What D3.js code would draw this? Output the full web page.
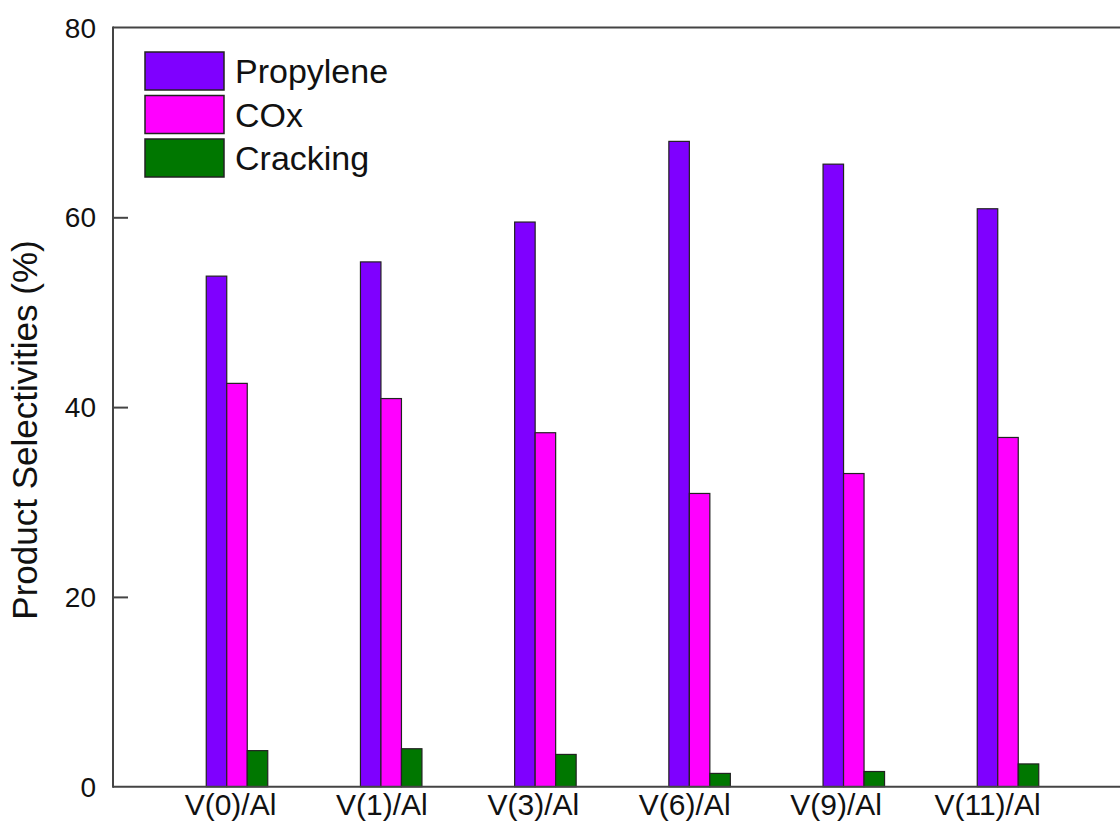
<!DOCTYPE html>
<html>
<head>
<meta charset="utf-8">
<script src="https://cdn.jsdelivr.net/npm/d3@7"></script>
<style>
  body { margin: 0; background: #fff; overflow: hidden; }
  svg { display: block; }
  text { font-family: "Liberation Sans", Arial, sans-serif; fill: #111; }
</style>
</head>
<body>
<div id="chart"></div>
<script>
// data
const catalysts = ["V(0)/Al", "V(1)/Al", "V(3)/Al", "V(6)/Al", "V(9)/Al", "V(11)/Al"];
const propylene = [53.8, 55.3, 59.5, 68.0, 65.6, 60.9];
const cox = [42.5, 40.9, 37.3, 30.9, 33.0, 36.8];
const cracking = [3.8, 4.0, 3.4, 1.4, 1.6, 2.4];
const seriesNames = ["Propylene", "COx", "Cracking"];
const seriesColors = ["#7F00FF", "#FF00FF", "#007700"];
const yTicks = [0, 20, 40, 60, 80];

const series = [propylene, cox, cracking];

const width = 1120, height = 823;
const mLeft = 113, mTop = 27.5, mBottom = 786.7;

const svg = d3.select("#chart").append("svg")
  .attr("width", width).attr("height", height);

const y = d3.scaleLinear().domain([0, 80]).range([mBottom, mTop]);

// bar group centres and label positions are spaced a bit differently in the original
const xBars = d3.scalePoint().domain(catalysts).range([237, 1008]);
const xLabels = d3.scalePoint().domain(catalysts).range([230, 987]);
const barW = 20.5;

// bars
series.forEach((vals, s) => {
  svg.append("g")
    .selectAll("rect")
    .data(vals)
    .join("rect")
    .attr("x", (d, i) => xBars(catalysts[i]) + (s - 1.5) * barW)
    .attr("y", d => y(d))
    .attr("width", barW)
    .attr("height", d => y(0) - y(d))
    .attr("fill", seriesColors[s])
    .attr("stroke", "#222")
    .attr("stroke-width", 1.2);
});

// frame: top, left, bottom (the right edge is off the picture)
svg.append("line")
  .attr("x1", mLeft).attr("x2", width)
  .attr("y1", mTop).attr("y2", mTop)
  .attr("stroke", "#444").attr("stroke-width", 2);
svg.append("line")
  .attr("x1", mLeft).attr("x2", width)
  .attr("y1", mBottom).attr("y2", mBottom)
  .attr("stroke", "#444").attr("stroke-width", 2);
svg.append("line")
  .attr("x1", mLeft).attr("x2", mLeft)
  .attr("y1", mTop - 1).attr("y2", mBottom + 1)
  .attr("stroke", "#444").attr("stroke-width", 2);

// y axis with inward ticks
const yAxis = svg.append("g")
  .attr("transform", `translate(${mLeft},0)`)
  .call(d3.axisRight(y).tickValues(yTicks).tickSize(15).tickFormat(""));
yAxis.select(".domain").remove();
yAxis.selectAll("line").attr("stroke", "#444").attr("stroke-width", 2)
  .filter(d => d === 0 || d === 80).remove();

svg.append("g")
  .selectAll("text")
  .data(yTicks)
  .join("text")
  .attr("x", 96)
  .attr("y", d => y(d))
  .attr("dy", "0.36em")
  .attr("text-anchor", "end")
  .style("font-size", "28px")
  .text(d => d);

// x axis labels
const xAxis = svg.append("g")
  .attr("transform", `translate(0,${mBottom})`)
  .call(d3.axisBottom(xLabels).tickSize(0).tickPadding(7));
xAxis.select(".domain").remove();
xAxis.selectAll("text")
  .style("font-size", "30px")
  .style("font-family", "'Liberation Sans', Arial, sans-serif")
  .attr("fill", "#111")
  .attr("dy", "0.71em");

// y title
svg.append("text")
  .attr("transform", "translate(37,430) rotate(-90)")
  .attr("text-anchor", "middle")
  .style("font-size", "35px")
  .text("Product Selectivities (%)");

// legend
const legend = svg.append("g");
seriesNames.forEach((name, i) => {
  const yy = 52 + i * 43.5;
  legend.append("rect")
    .attr("x", 145).attr("y", yy)
    .attr("width", 79).attr("height", 38)
    .attr("fill", seriesColors[i])
    .attr("stroke", "#222").attr("stroke-width", 1.5);
  legend.append("text")
    .attr("x", 235).attr("y", yy + 19)
    .attr("dy", "0.36em")
    .style("font-size", "34px")
    .text(name);
});
</script>
</body>
</html>
